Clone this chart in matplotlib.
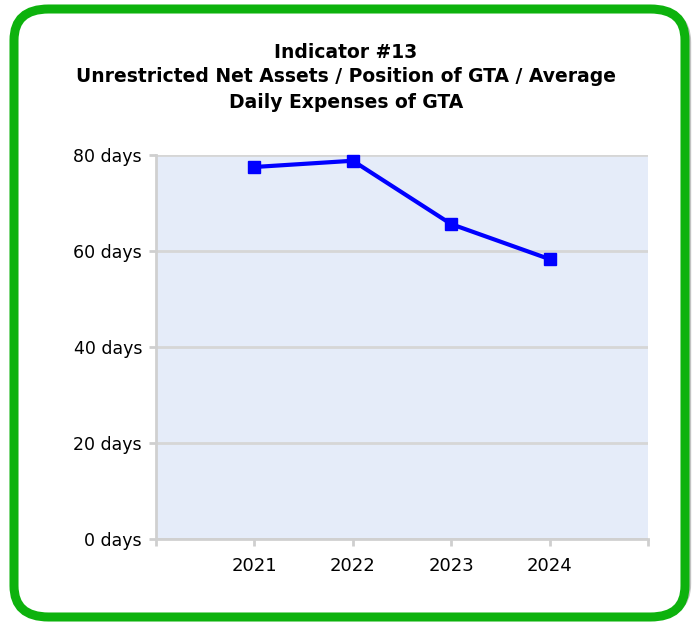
import matplotlib
matplotlib.use("Agg")
import matplotlib.pyplot as plt
from matplotlib.patches import FancyBboxPatch

years = ["2021", "2022", "2023", "2024"]
days = [77.5, 78.8, 65.6, 58.3]
y_ticks = [0, 20, 40, 60, 80]

W, H = 692, 624
fig = plt.figure(figsize=(W / 100, H / 100), dpi=100)
fig.patch.set_facecolor("white")

# rounded green frame (with a soft grey shadow)
shadow = FancyBboxPatch((17 / W, 9 / H), 670 / W, 604 / H,
                        boxstyle="round,pad=0,rounding_size=0.05",
                        transform=fig.transFigure, facecolor="none",
                        edgecolor="#9a9a9a", linewidth=6, alpha=0.6, zorder=0)
frame = FancyBboxPatch((14 / W, 7 / H), 671 / W, 608 / H,
                       boxstyle="round,pad=0,rounding_size=0.05",
                       transform=fig.transFigure, facecolor="white",
                       edgecolor="#0db20d", linewidth=6.5, zorder=1)
fig.patches.extend([shadow, frame])

ax = fig.add_axes([156 / W, 1 - 539 / H, (648 - 156) / W, (539 - 155) / H])
ax.set_zorder(2)
ax.set_facecolor("#e5ecf9")

x = list(range(1, len(years) + 1))
ax.plot(x, days, color="#0000ff", linewidth=3, marker="s", markersize=8,
        zorder=3, clip_on=False)

ax.set_xlim(0, len(years) + 1)
ax.set_ylim(0, 80)
ax.set_xticks(range(0, len(years) + 2))
ax.set_xticklabels([""] + years + [""], fontsize=13)
ax.set_yticks(y_ticks)
ax.set_yticklabels([f"{v} days" for v in y_ticks], fontsize=12.5)
ax.grid(axis="y", color="#d6d6d6", linewidth=2)
ax.set_axisbelow(True)
for s in ["top", "right"]:
    ax.spines[s].set_visible(False)
for s in ["left", "bottom"]:
    ax.spines[s].set_color("#d0d0d0")
    ax.spines[s].set_linewidth(2)
ax.tick_params(axis="both", color="#cfcfcf", width=2, length=5, pad=5)
ax.tick_params(axis="x", pad=8)

fig.text(0.5, 1 - 77 / H, "Indicator #13\nUnrestricted Net Assets / Position of GTA / Average\nDaily Expenses of GTA",
         ha="center", va="center", fontsize=13.5, fontweight="bold",
         linespacing=1.4, zorder=3)

fig.savefig("out.png", dpi=100)
